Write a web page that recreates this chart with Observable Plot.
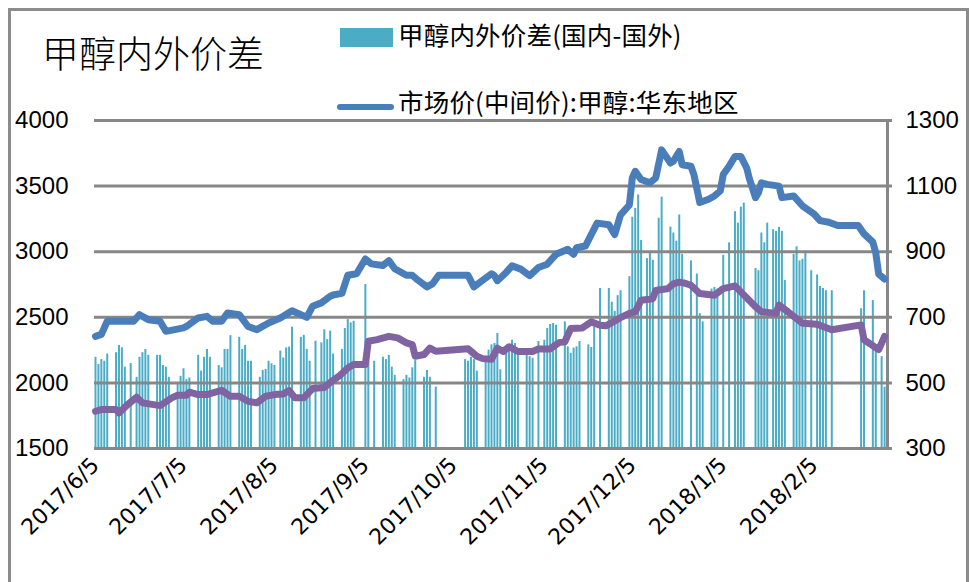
<!DOCTYPE html>
<html><head><meta charset="utf-8">
<script src="https://cdn.jsdelivr.net/npm/d3@7"></script>
<script src="https://cdn.jsdelivr.net/npm/@observablehq/plot@0.6"></script>
<style>
body{margin:0;background:#fff;}
#wrap{position:relative;width:969px;height:582px;overflow:hidden;font-family:"Noto Sans CJK SC",sans-serif;color:#000;}
#frame{position:absolute;left:8px;top:8px;width:961px;height:620px;border:3px solid #8c8c8c;box-sizing:border-box;}
#title{position:absolute;left:42px;top:34px;font-size:37px;line-height:1;font-weight:300;white-space:nowrap;}
.lg{position:absolute;left:398px;font-size:25.5px;line-height:1;white-space:nowrap;letter-spacing:0.2px;}
#sw1{position:absolute;left:340px;top:28px;width:53px;height:19px;background:#4bacc6;}
#sw2{position:absolute;left:337px;top:104px;width:57px;height:6px;background:#4a7ebb;border-radius:3px;}
#chart{position:absolute;left:0;top:0;}
</style></head>
<body><div id="wrap">
<div id="frame"></div>
<div id="chart"></div>
<div id="title">甲醇内外价差</div>
<div id="sw1"></div><div class="lg" id="lg1" style="top:21px">甲醇内外价差(国内-国外)</div>
<div id="sw2"></div><div class="lg" id="lg2" style="top:88px">市场价(中间价):甲醇:华东地区</div>
</div>
<script>
// 市场价(中间价):甲醇:华东地区 (left axis)
const priceSeries = [["2017-06-05",2355],["2017-06-07",2370],["2017-06-09",2470],["2017-06-18",2470],["2017-06-20",2520],["2017-06-23",2482],["2017-06-27",2470],["2017-06-29",2393],["2017-07-02",2406],["2017-07-05",2419],["2017-07-06",2430],["2017-07-10",2495],["2017-07-13",2507],["2017-07-15",2470],["2017-07-18",2470],["2017-07-20",2533],["2017-07-24",2520],["2017-07-27",2430],["2017-07-30",2406],["2017-08-03",2457],["2017-08-07",2495],["2017-08-11",2550],["2017-08-14",2520],["2017-08-16",2500],["2017-08-18",2584],["2017-08-21",2610],["2017-08-24",2660],["2017-08-25",2670],["2017-08-28",2682],["2017-08-30",2820],["2017-09-02",2832],["2017-09-05",2945],["2017-09-07",2907],["2017-09-11",2895],["2017-09-13",2932],["2017-09-15",2870],["2017-09-19",2820],["2017-09-21",2820],["2017-09-23",2782],["2017-09-26",2732],["2017-09-28",2757],["2017-09-30",2820],["2017-10-10",2820],["2017-10-12",2732],["2017-10-15",2782],["2017-10-18",2832],["2017-10-19",2817],["2017-10-20",2779],["2017-10-23",2842],["2017-10-25",2892],["2017-10-28",2867],["2017-10-31",2817],["2017-11-03",2880],["2017-11-06",2905],["2017-11-09",2980],["2017-11-13",3018],["2017-11-15",2980],["2017-11-16",3030],["2017-11-19",3043],["2017-11-23",3218],["2017-11-27",3206],["2017-11-29",3131],["2017-12-01",3281],["2017-12-04",3356],["2017-12-05",3563],["2017-12-06",3613],["2017-12-08",3550],["2017-12-11",3525],["2017-12-13",3563],["2017-12-15",3776],["2017-12-18",3676],["2017-12-19",3689],["2017-12-21",3764],["2017-12-22",3663],["2017-12-25",3651],["2017-12-26",3588],["2017-12-28",3375],["2017-12-31",3400],["2018-01-02",3425],["2018-01-04",3463],["2018-01-05",3588],["2018-01-07",3651],["2018-01-09",3726],["2018-01-11",3726],["2018-01-13",3638],["2018-01-14",3550],["2018-01-16",3412],["2018-01-17",3450],["2018-01-18",3525],["2018-01-20",3513],["2018-01-24",3500],["2018-01-25",3412],["2018-01-29",3425],["2018-02-01",3350],["2018-02-05",3287],["2018-02-07",3237],["2018-02-10",3224],["2018-02-13",3199],["2018-02-20",3199],["2018-02-22",3136],["2018-02-25",3073],["2018-02-26",2992],["2018-02-27",2829],["2018-03-01",2792]];

// second (purple) price line (left axis)
const foreignSeries = [["2017-06-05",1784],["2017-06-07",1797],["2017-06-12",1797],["2017-06-13",1771],["2017-06-16",1835],["2017-06-19",1891],["2017-06-21",1848],["2017-06-27",1827],["2017-07-01",1886],["2017-07-03",1906],["2017-07-06",1906],["2017-07-07",1929],["2017-07-10",1911],["2017-07-13",1911],["2017-07-18",1944],["2017-07-21",1898],["2017-07-24",1898],["2017-07-27",1860],["2017-07-30",1848],["2017-08-02",1898],["2017-08-05",1911],["2017-08-08",1916],["2017-08-10",1942],["2017-08-12",1886],["2017-08-15",1886],["2017-08-18",1957],["2017-08-22",1965],["2017-08-25",2020],["2017-08-27",2051],["2017-08-30",2114],["2017-09-01",2140],["2017-09-05",2140],["2017-09-06",2317],["2017-09-09",2330],["2017-09-13",2355],["2017-09-16",2343],["2017-09-19",2305],["2017-09-21",2292],["2017-09-22",2203],["2017-09-25",2216],["2017-09-27",2266],["2017-09-29",2241],["2017-10-10",2260],["2017-10-13",2203],["2017-10-15",2185],["2017-10-18",2180],["2017-10-20",2264],["2017-10-22",2239],["2017-10-24",2276],["2017-10-27",2239],["2017-11-01",2239],["2017-11-03",2259],["2017-11-07",2259],["2017-11-10",2307],["2017-11-12",2314],["2017-11-14",2414],["2017-11-18",2419],["2017-11-21",2465],["2017-11-24",2440],["2017-11-26",2435],["2017-12-01",2497],["2017-12-04",2530],["2017-12-06",2542],["2017-12-08",2630],["2017-12-12",2642],["2017-12-13",2705],["2017-12-17",2717],["2017-12-19",2755],["2017-12-21",2768],["2017-12-23",2760],["2017-12-25",2744],["2017-12-28",2681],["2018-01-02",2668],["2018-01-05",2719],["2018-01-09",2739],["2018-01-11",2694],["2018-01-16",2580],["2018-01-18",2543],["2018-01-23",2530],["2018-01-24",2593],["2018-01-27",2543],["2018-02-01",2455],["2018-02-06",2447],["2018-02-08",2430],["2018-02-11",2405],["2018-02-21",2442],["2018-02-22",2329],["2018-02-27",2254],["2018-03-01",2354]];

// 甲醇内外价差(国内-国外) (right axis)
const spreadSeries = [["2017-06-05",578],["2017-06-06",556],["2017-06-07",571],["2017-06-08",566],["2017-06-09",588],["2017-06-12",592],["2017-06-13",614],["2017-06-14",607],["2017-06-15",548],["2017-06-17",559],["2017-06-19",517],["2017-06-20",578],["2017-06-21",592],["2017-06-22",602],["2017-06-23",584],["2017-06-26",584],["2017-06-27",584],["2017-06-28",553],["2017-06-29",548],["2017-06-30",517],["2017-07-03",497],["2017-07-04",520],["2017-07-05",543],["2017-07-06",510],["2017-07-07",515],["2017-07-10",584],["2017-07-11",536],["2017-07-12",578],["2017-07-13",602],["2017-07-14",578],["2017-07-17",553],["2017-07-18",546],["2017-07-19",602],["2017-07-20",602],["2017-07-21",644],["2017-07-24",639],["2017-07-25",602],["2017-07-26",614],["2017-07-27",566],["2017-07-28",566],["2017-07-31",517],["2017-08-01",538],["2017-08-02",541],["2017-08-03",566],["2017-08-04",558],["2017-08-05",553],["2017-08-07",597],["2017-08-08",576],["2017-08-09",607],["2017-08-10",609],["2017-08-11",670],["2017-08-14",639],["2017-08-15",645],["2017-08-16",602],["2017-08-17",566],["2017-08-19",627],["2017-08-21",622],["2017-08-22",662],["2017-08-23",632],["2017-08-24",658],["2017-08-25",588],["2017-08-28",602],["2017-08-29",666],["2017-08-30",693],["2017-08-31",683],["2017-09-01",688],["2017-09-05",800],["2017-09-06",566],["2017-09-08",566],["2017-09-11",578],["2017-09-12",571],["2017-09-13",584],["2017-09-14",548],["2017-09-15",523],["2017-09-18",510],["2017-09-19",523],["2017-09-20",515],["2017-09-21",546],["2017-09-22",568],["2017-09-25",517],["2017-09-26",538],["2017-09-27",517],["2017-09-29",487],["2017-10-09",571],["2017-10-10",566],["2017-10-11",578],["2017-10-12",571],["2017-10-13",536],["2017-10-16",581],["2017-10-17",600],["2017-10-18",616],["2017-10-19",620],["2017-10-20",651],["2017-10-21",540],["2017-10-23",590],["2017-10-24",606],["2017-10-25",630],["2017-10-26",620],["2017-10-27",596],["2017-10-30",590],["2017-10-31",580],["2017-11-01",575],["2017-11-03",626],["2017-11-05",630],["2017-11-06",666],["2017-11-07",678],["2017-11-08",681],["2017-11-09",676],["2017-11-12",686],["2017-11-13",610],["2017-11-14",590],["2017-11-15",606],["2017-11-16",610],["2017-11-17",626],["2017-11-20",616],["2017-11-21",608],["2017-11-22",671],["2017-11-24",788],["2017-11-27",788],["2017-11-28",746],["2017-11-29",718],["2017-11-30",766],["2017-12-01",781],["2017-12-04",824],["2017-12-05",1005],["2017-12-06",1032],["2017-12-07",1073],["2017-12-08",934],["2017-12-10",879],["2017-12-11",895],["2017-12-12",874],["2017-12-14",1002],["2017-12-15",1066],["2017-12-18",975],["2017-12-19",957],["2017-12-20",932],["2017-12-21",1012],["2017-12-22",892],["2017-12-25",872],["2017-12-27",832],["2017-12-28",711],["2017-12-29",686],["2018-01-01",786],["2018-01-02",791],["2018-01-03",786],["2018-01-05",889],["2018-01-07",927],["2018-01-09",1022],["2018-01-10",987],["2018-01-11",1036],["2018-01-12",1048],["2018-01-16",849],["2018-01-17",842],["2018-01-18",957],["2018-01-19",927],["2018-01-20",987],["2018-01-22",967],["2018-01-23",962],["2018-01-24",974],["2018-01-25",962],["2018-01-26",812],["2018-01-29",892],["2018-01-30",915],["2018-01-31",872],["2018-02-01",877],["2018-02-02",902],["2018-02-04",842],["2018-02-06",829],["2018-02-07",794],["2018-02-08",788],["2018-02-09",781],["2018-02-11",781],["2018-02-21",726],["2018-02-22",781],["2018-02-25",751],["2018-02-26",600],["2018-02-28",580],["2018-03-01",487]];

const leftTicks = [1500, 2000, 2500, 3000, 3500, 4000];
const rightTicks = [300, 500, 700, 900, 1100, 1300];
const xTickLabels = ["2017-06-05","2017-07-05","2017-08-05","2017-09-05","2017-10-05","2017-11-05","2017-12-05","2018-01-05","2018-02-05"];
const xDomain = ["2017-06-05","2018-03-02"];

const parse = d3.utcParse("%Y-%m-%d");
// right axis (300..1300) shares the frame with left axis (1500..4000)
const rightToLeft = r => leftTicks[0] + (r - rightTicks[0]) * (leftTicks[5] - leftTicks[0]) / (rightTicks[5] - rightTicks[0]);
const price = priceSeries.map(([d, v]) => ({date: parse(d), v}));
const foreign = foreignSeries.map(([d, v]) => ({date: parse(d), v}));
const spread = spreadSeries.map(([d, v]) => ({date: parse(d), v}));
const dom = xDomain.map(parse);

const chart = Plot.plot({
  width: 969, height: 582,
  marginLeft: 95, marginRight: 82, marginTop: 120, marginBottom: 134,
  style: {background: "transparent", color: "#000", overflow: "visible"},
  x: {type: "utc", domain: dom, label: null},
  y: {domain: [leftTicks[0], leftTicks[5]], label: null},
  marks: [
    Plot.ruleX(spread, {x: "date", y1: leftTicks[0], y2: d => rightToLeft(d.v), stroke: "#4bacc6", strokeWidth: 2}),
    Plot.ruleY(leftTicks, {stroke: "#878787", strokeWidth: 3, insetLeft: -1, insetRight: -5}),
    Plot.ruleX([dom[1]], {y1: leftTicks[0], y2: leftTicks[5], stroke: "#878787", strokeWidth: 3}),
    Plot.line(foreign, {x: "date", y: "v", stroke: "#8064a2", strokeWidth: 7, strokeLinejoin: "round", strokeLinecap: "round"}),
    Plot.line(price, {x: "date", y: "v", stroke: "#4a7ebb", strokeWidth: 7, strokeLinejoin: "round", strokeLinecap: "round"}),
    Plot.axisY(leftTicks, {anchor: "left", label: null, tickSize: 0, tickPadding: 27, fontSize: 24, fontFamily: "Liberation Sans", tickFormat: d => String(d)}),
    Plot.axisY(rightTicks.map(rightToLeft), {anchor: "right", label: null, tickSize: 0, tickPadding: 18, fontSize: 24, fontFamily: "Liberation Sans", textAnchor: "start", tickFormat: (d, i) => String(rightTicks[i])}),
    Plot.axisX(xTickLabels.map(parse), {anchor: "bottom", label: null, tickSize: 0, tickPadding: 13, tickRotate: -45, fontSize: 22, fontFamily: "DejaVu Sans", tickFormat: d3.utcFormat("%Y/%-m/%-d")})
  ]
});
document.getElementById("chart").appendChild(chart);
</script>
</body></html>
